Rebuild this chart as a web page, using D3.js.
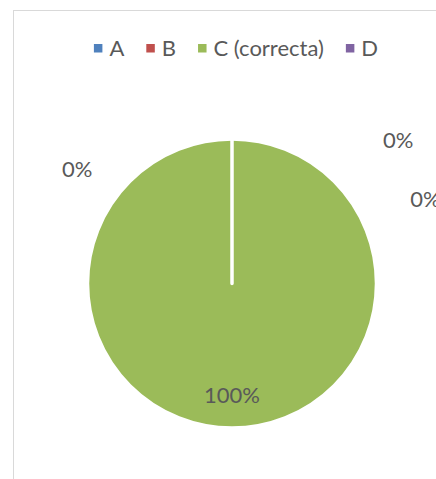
<!DOCTYPE html>
<html>
<head>
<meta charset="utf-8">
<script src="https://cdn.jsdelivr.net/npm/d3@7"></script>
<style>
  html, body { margin: 0; padding: 0; background: #fff; }
  svg { display: block; }
  text { font-family: Lato, "Open Sans", sans-serif; fill: #595959; }
</style>
</head>
<body>
<svg id="chart" width="436" height="479"></svg>
<script>
// ---- data ----
const categories = ["A", "B", "C (correcta)", "D"];
const values = [0, 0, 1, 0];
const colors = ["#4F81BD", "#C0504D", "#9BBB59", "#8064A2"];

// ---- layout ----
const W = 436, H = 479;
const cx = 232, cy = 283.5, R = 144.5;
const fontSize = 22;
// label placement (angle in degrees clockwise from 12 o'clock, distance in radii)
const zeroLabelPlacement = { "A": [49.2, 1.52], "B": [66.5, 1.46], "D": [306.4, 1.33] };

const svg = d3.select("#chart");

// chart border
svg.append("rect")
  .attr("x", 13.5).attr("y", 10.5)
  .attr("width", 470).attr("height", 490)
  .attr("fill", "#fff").attr("stroke", "#d9d9d9").attr("stroke-width", 1);

const color = d3.scaleOrdinal().domain(categories).range(colors);
const total = d3.sum(values);
const fmt = d3.format(".0%");

const pie = d3.pie().sort(null).value(d => d.v);
const arcs = pie(categories.map((c, i) => ({ c, v: values[i] })));
const arc = d3.arc().innerRadius(0).outerRadius(R);

const g = svg.append("g").attr("transform", `translate(${cx},${cy})`);
g.selectAll("path.slice").data(arcs).join("path")
  .attr("class", "slice")
  .attr("d", arc)
  .attr("fill", d => color(d.data.c))
  .attr("stroke", "#fff")
  .attr("stroke-width", 3.5)
  .attr("stroke-linejoin", "round");

// data labels
const labelArc = d3.arc().innerRadius(R * 0.772).outerRadius(R * 0.772);
g.selectAll("text.lbl").data(arcs).join("text")
  .attr("class", "lbl")
  .attr("text-anchor", "middle")
  .attr("dy", "0.36em")
  .attr("font-size", fontSize)
  .attr("transform", d => {
    let p;
    if (d.data.v === 0) {
      const pl = zeroLabelPlacement[d.data.c];
      p = d3.pointRadial(pl[0] * Math.PI / 180, pl[1] * R);
    } else {
      p = labelArc.centroid(d);
    }
    return `translate(${p[0]},${p[1]})`;
  })
  .text(d => fmt(d.data.v / total));

// legend
const legend = svg.append("g");
const sq = 8.5, gapText = 7, gapItem = 22;
const items = legend.selectAll("g").data(categories).join("g");
items.append("rect")
  .attr("width", sq).attr("height", sq)
  .attr("y", 44)
  .attr("fill", d => color(d));
items.append("text")
  .attr("x", sq + gapText)
  .attr("y", 55.5)
  .attr("font-size", fontSize)
  .text(d => d);
let xPos = 0;
items.each(function () {
  const w = d3.select(this).select("text").node().getComputedTextLength();
  d3.select(this).attr("transform", `translate(${xPos},0)`);
  xPos += sq + gapText + w + gapItem;
});
const legendWidth = xPos - gapItem;
legend.attr("transform", `translate(${236 - legendWidth / 2},0)`);
</script>
</body>
</html>
